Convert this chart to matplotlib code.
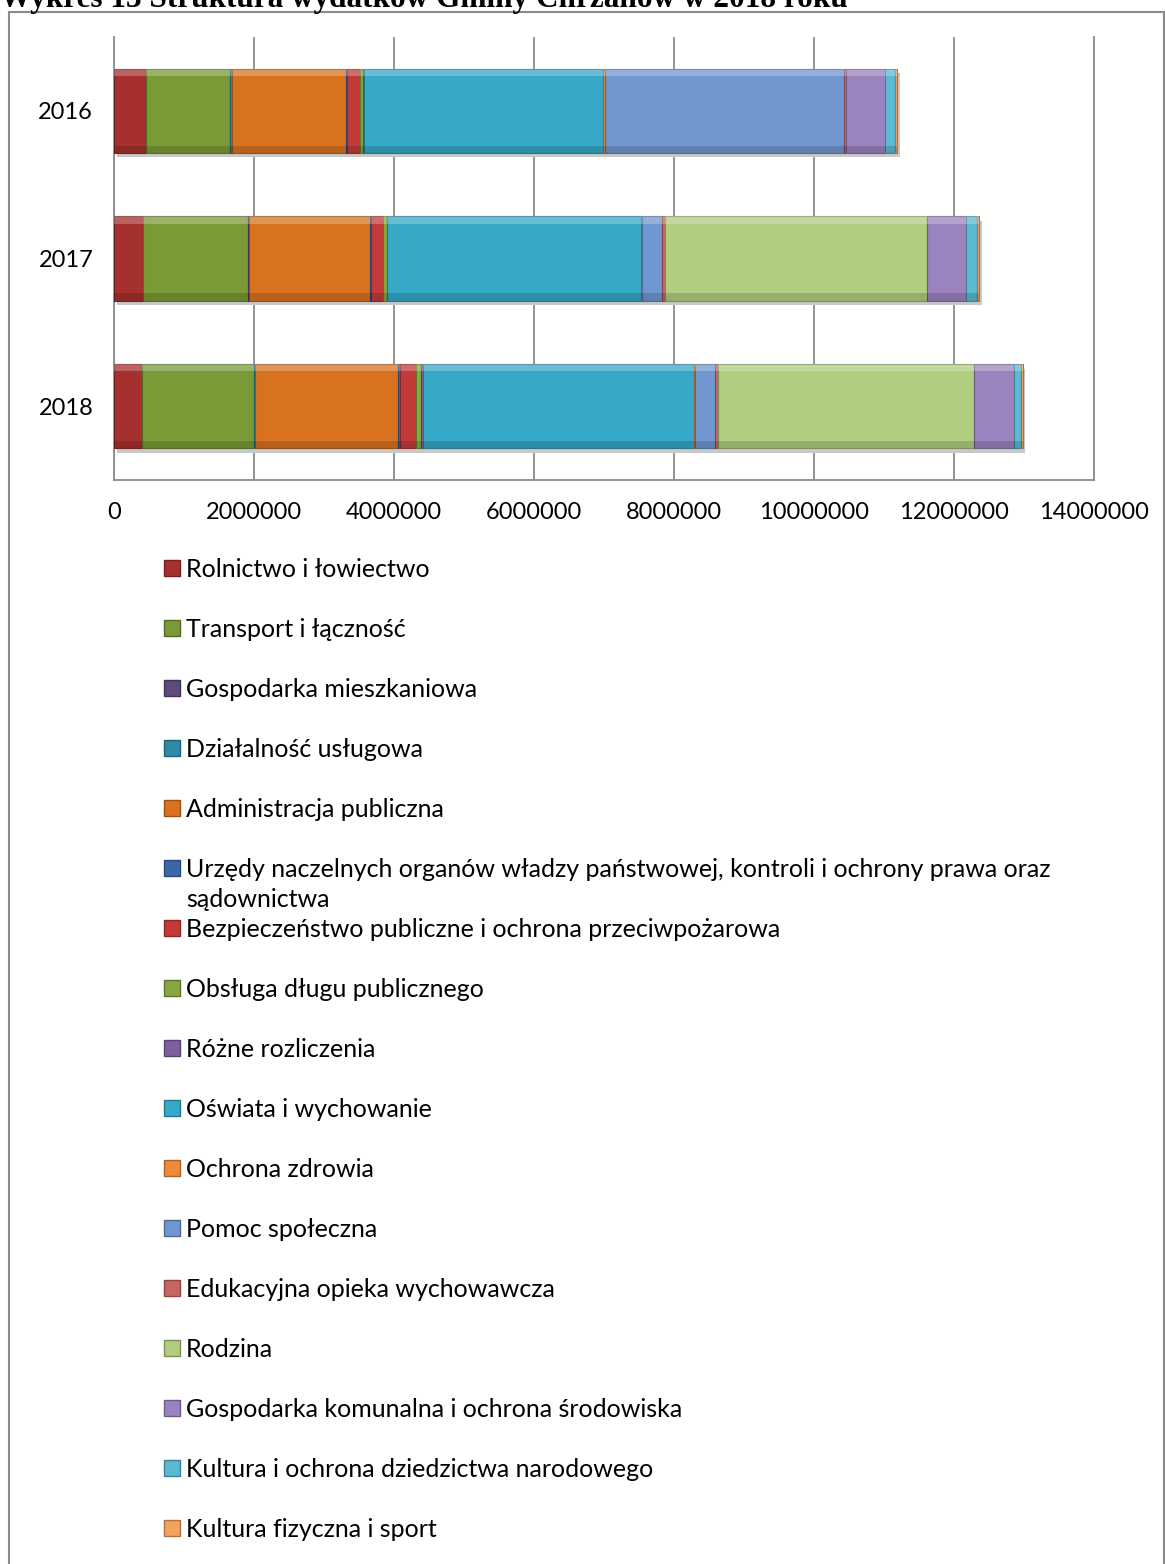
import numpy as np
import matplotlib
matplotlib.use("Agg")
import matplotlib.pyplot as plt
from matplotlib.patches import Rectangle
from matplotlib.ticker import FuncFormatter
from matplotlib.colors import to_rgb

plt.rcParams['font.family'] = ['Lato', 'DejaVu Sans']

# data (zł)
years = ['2016', '2017', '2018']

categories = [
    'Rolnictwo i łowiectwo',
    'Transport i łączność',
    'Gospodarka mieszkaniowa',
    'Działalność usługowa',
    'Administracja publiczna',
    'Urzędy naczelnych organów władzy państwowej, kontroli i ochrony prawa oraz\nsądownictwa',
    'Bezpieczeństwo publiczne i ochrona przeciwpożarowa',
    'Obsługa długu publicznego',
    'Różne rozliczenia',
    'Oświata i wychowanie',
    'Ochrona zdrowia',
    'Pomoc społeczna',
    'Edukacyjna opieka wychowawcza',
    'Rodzina',
    'Gospodarka komunalna i ochrona środowiska',
    'Kultura i ochrona dziedzictwa narodowego',
    'Kultura fizyczna i sport',
]

rolnictwo = [450000, 420000, 400000]
transport = [1200000, 1500000, 1600000]
gosp_mieszkaniowa = [10000, 5000, 5000]
dzialalnosc_uslugowa = [20000, 5000, 5000]
administracja = [1630000, 1730000, 2040000]
urzedy = [20000, 10000, 40000]
bezpieczenstwo = [190000, 170000, 220000]
obsluga_dlugu = [40000, 60000, 70000]
rozne_rozliczenia = [10000, 5000, 40000]
oswiata = [3420000, 3630000, 3870000]
ochrona_zdrowia = [20000, 10000, 10000]
pomoc_spoleczna = [3420000, 290000, 290000]
edukacyjna_opieka = [30000, 30000, 40000]
rodzina = [0, 3750000, 3650000]
gosp_komunalna = [550000, 550000, 580000]
kultura = [150000, 160000, 100000]
kultura_fizyczna = [30000, 30000, 20000]

series = [rolnictwo, transport, gosp_mieszkaniowa, dzialalnosc_uslugowa,
          administracja, urzedy, bezpieczenstwo, obsluga_dlugu,
          rozne_rozliczenia, oswiata, ochrona_zdrowia, pomoc_spoleczna,
          edukacyjna_opieka, rodzina, gosp_komunalna, kultura,
          kultura_fizyczna]

colors = ['#A5302D', '#7A9A37', '#5E4A7C', '#2E8AA6', '#D8721F', '#3B67A8',
          '#C23B38', '#86A83F', '#7D5F9E', '#36A8C8', '#EE8A3A', '#7097CF',
          '#C86563', '#B1CD7F', '#9A83BE', '#5CB9D2', '#F5A25E']

title = 'Wykres 13 Struktura wydatków Gminy Chrzanów w 2018 roku'


def darker(c, f=0.7):
    r, g, b = to_rgb(c)
    return (r * f, g * f, b * f)


W, H = 1165, 1564
fig = plt.figure(figsize=(W / 100, H / 100), dpi=100)
ax = fig.add_axes([114 / W, 1 - 480 / H, (1094 - 114) / W, (480 - 37) / H])

y = np.arange(len(years))
bar_h = 0.57
left = np.zeros(len(years))
totals = np.sum(np.array(series), axis=0)

# soft shadow under the bars
ax.barh(y + 0.03, totals, left=40000, height=bar_h, color='#c8c8c8',
        zorder=2, linewidth=0)

for vals, col in zip(series, colors):
    vals = np.array(vals, dtype=float)
    ax.barh(y, vals, left=left, height=bar_h, color=col,
            edgecolor=darker(col), linewidth=0.8, zorder=3)
    # bevel: light strip on top, dark strip at bottom
    ax.barh(y - bar_h / 2 + 0.025, vals, left=left, height=0.05,
            color='white', alpha=0.25, linewidth=0, zorder=4)
    ax.barh(y + bar_h / 2 - 0.025, vals, left=left, height=0.05,
            color='black', alpha=0.15, linewidth=0, zorder=4)
    left += vals

ax.set_xlim(0, 14000000)
ax.set_ylim(2.5, -0.5)
ax.set_yticks(y)
ax.set_yticklabels(years)
ax.set_xticks(np.arange(0, 14000001, 2000000))
ax.xaxis.set_major_formatter(FuncFormatter(lambda v, p: '%d' % v))
ax.tick_params(axis='x', length=0, labelsize=17, pad=16)
ax.tick_params(axis='y', length=0, labelsize=17, pad=15)
ax.grid(axis='x', color='#8c8c8c', linewidth=1.3, zorder=0)
ax.set_axisbelow(True)
ax.spines['top'].set_visible(False)
for s in ['left', 'bottom', 'right']:
    ax.spines[s].set_color('#8c8c8c')
    ax.spines[s].set_linewidth(1.3)

# legend, one entry per row
for i, (cat, col) in enumerate(zip(categories, colors)):
    base = 577 + 60 * i
    fig.add_artist(Rectangle((164 / W, 1 - (base - 1) / H), 16 / W, 16 / H,
                             transform=fig.transFigure, facecolor=col,
                             edgecolor=darker(col), linewidth=1))
    lines = cat.split('\n')
    for j, line in enumerate(lines):
        fig.text(186 / W, 1 - (base + 30 * j) / H, line, fontsize=18,
                 va='baseline', ha='left', color='black')

# outer border
fig.add_artist(Rectangle((8.5 / W, -0.01), (1163.5 - 8.5) / W, 1 - 12 / H + 0.01,
                         transform=fig.transFigure, fill=False,
                         edgecolor='#8a8a8a', linewidth=1.5))

# title, cut at the top edge of the crop as in the original
fig.text(0, 1 - 7.5 / H, title, fontsize=22.5, fontweight='bold',
         family=['Liberation Serif', 'DejaVu Serif'], va='baseline', ha='left')

fig.savefig('out.png', dpi=100)
